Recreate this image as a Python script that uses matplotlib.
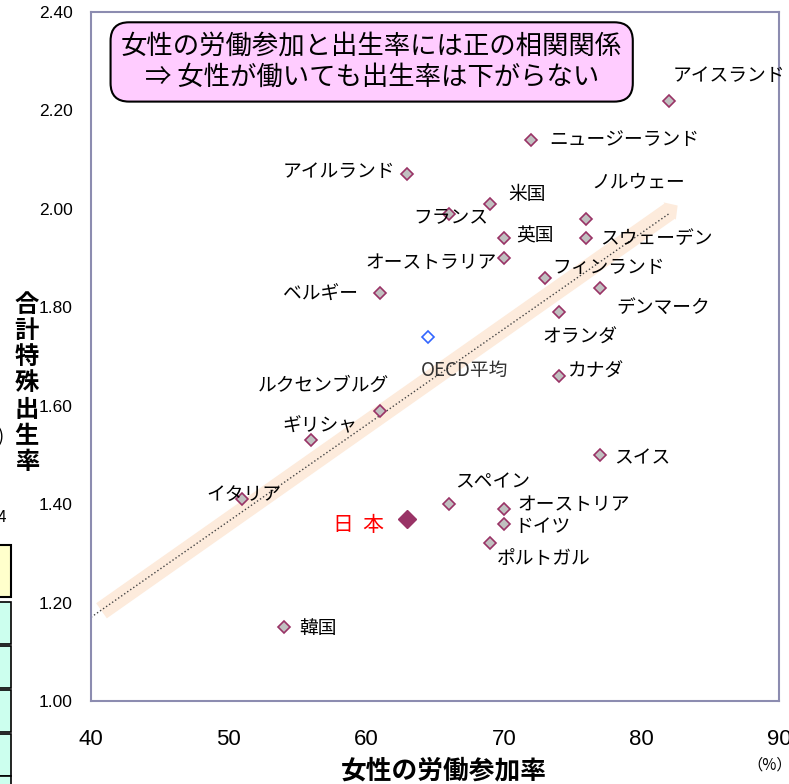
import matplotlib.pyplot as plt
from matplotlib.patches import Rectangle

plt.rcParams["font.family"] = ["Noto Sans CJK JP", "DejaVu Sans"]

# female labour participation (%) / total fertility rate
countries = ["アイスランド", "ニュージーランド", "アイルランド", "米国", "フランス",
             "ノルウェー", "英国", "スウェーデン", "オーストラリア", "フィンランド",
             "デンマーク", "ベルギー", "オランダ", "カナダ", "ルクセンブルグ",
             "ギリシャ", "スイス", "イタリア", "スペイン", "オーストリア",
             "ドイツ", "ポルトガル", "韓国"]
participation = [82, 72, 63, 69, 66, 76, 70, 76, 70, 73, 77, 61, 74, 74, 61,
                 56, 77, 51, 66, 70, 70, 69, 54]
fertility = [2.22, 2.14, 2.07, 2.01, 1.99, 1.98, 1.94, 1.94, 1.90, 1.86, 1.84,
             1.83, 1.79, 1.66, 1.59, 1.53, 1.50, 1.41, 1.40, 1.39, 1.36, 1.32, 1.15]
# label anchor (x, y, ha)
label_pos = [(82.3, 2.27, "left"), (73.3, 2.14, "left"), (62.1, 2.075, "right"),
             (70.3, 2.03, "left"), (63.4, 1.985, "left"), (76.4, 2.055, "left"),
             (70.9, 1.945, "left"), (77.0, 1.94, "left"), (69.5, 1.89, "right"),
             (73.5, 1.88, "left"), (78.2, 1.80, "left"), (59.4, 1.827, "right"),
             (72.8, 1.74, "left"), (74.7, 1.67, "left"), (52.1, 1.642, "left"),
             (53.9, 1.56, "left"), (78.0, 1.495, "left"), (48.4, 1.42, "left"),
             (66.5, 1.445, "left"), (71.0, 1.40, "left"), (70.8, 1.355, "left"),
             (69.5, 1.29, "left"), (55.1, 1.148, "left")]

japan = (63, 1.37)
oecd = (64.5, 1.74)
trend_x = [40, 82]
trend_y = [1.17, 1.99]

x_ticks = [40, 50, 60, 70, 80, 90]
y_ticks = [1.0, 1.2, 1.4, 1.6, 1.8, 2.0, 2.2, 2.4]

fig = plt.figure(figsize=(7.89, 7.84), dpi=100)
ax = fig.add_axes([0.1153, 0.1059, 0.872, 0.8788])

# wide trend arrow + dotted line
ax.annotate("", xy=(82.8, 2.01), xytext=(40.6, 1.18),
            arrowprops=dict(arrowstyle="simple,head_length=0.5,head_width=1.1,tail_width=0.95",
                            mutation_scale=14, fc="#fdebdc", ec="none"), zorder=1)
ax.plot(trend_x, trend_y, color="#444444", linestyle=":", linewidth=1, zorder=2)

ax.plot(participation, fertility, linestyle="none", marker="D", markersize=6.6,
        markerfacecolor="#c0c0c0", markeredgecolor="#993366", markeredgewidth=1.2, zorder=3)
ax.plot(*japan, linestyle="none", marker="D", markersize=9.5,
        markerfacecolor="#993366", markeredgecolor="#993366", zorder=3)
ax.plot(*oecd, linestyle="none", marker="D", markersize=6.6,
        markerfacecolor="white", markeredgecolor="#3366ff", markeredgewidth=1.2, zorder=3)

for name, (lx, ly, ha) in zip(countries, label_pos):
    ax.text(lx, ly, name, ha=ha, va="center", fontsize=13.5, color="black", zorder=4)
ax.text(64.0, 1.672, "OECD平均", ha="left", va="center", fontsize=13.5, color="#333333", zorder=4)
ax.text(57.6, 1.357, "日  本", ha="left", va="center", fontsize=15, color="red", zorder=4)

ax.text(0.408, 0.9275, "女性の労働参加と出生率には正の相関関係\n⇒ 女性が働いても出生率は下がらない",
        transform=ax.transAxes, ha="center", va="center", fontsize=19, linespacing=1.2,
        bbox=dict(boxstyle="round,pad=0.4,rounding_size=0.7", fc="#ffccff", ec="black", lw=1.5),
        zorder=5)

ax.set_xlim(40, 90)
ax.set_ylim(1.0, 2.4)
ax.set_xticks(x_ticks)
ax.set_yticks(y_ticks)
ax.set_yticklabels([f"{v:.2f}" for v in y_ticks], fontfamily="Liberation Sans", fontsize=12.5)
ax.set_xticklabels([str(v) for v in x_ticks], fontfamily="Liberation Sans", fontsize=16)
ax.tick_params(axis="x", length=0, pad=20)
ax.tick_params(axis="y", length=0, pad=13)
for sp in ax.spines.values():
    sp.set_color("#8c8cb0")
    sp.set_linewidth(1.5)

fig.text(0.562, 0.017, "女性の労働参加率", ha="center", va="center", fontsize=18.5, fontweight="bold")
fig.text(0.976, 0.024, "（%）", ha="center", va="center", fontsize=11)
fig.text(0.034, 0.511, "\n".join("合計特殊出生率"), ha="center", va="center",
         fontsize=17.5, fontweight="bold", linespacing=1.12)

# cropped pieces of the neighbouring slide content on the left edge
fig.text(0.0, 0.442, ")", ha="center", va="center", fontsize=13)
fig.text(0.003, 0.34, "4", ha="center", va="center", fontsize=11)
fig.patches.append(Rectangle((-0.01, 1 - 597 / 784), 0.024, 52 / 784,
                             transform=fig.transFigure, fc="#ffffcc", ec="black", lw=1.5))
for top in [602, 646, 690, 734, 776]:
    fig.patches.append(Rectangle((-0.01, 1 - (top + 42) / 784), 0.024, 42 / 784,
                                 transform=fig.transFigure, fc="#ccffee", ec="black", lw=1.2))

fig.savefig("out.png", dpi=100)
